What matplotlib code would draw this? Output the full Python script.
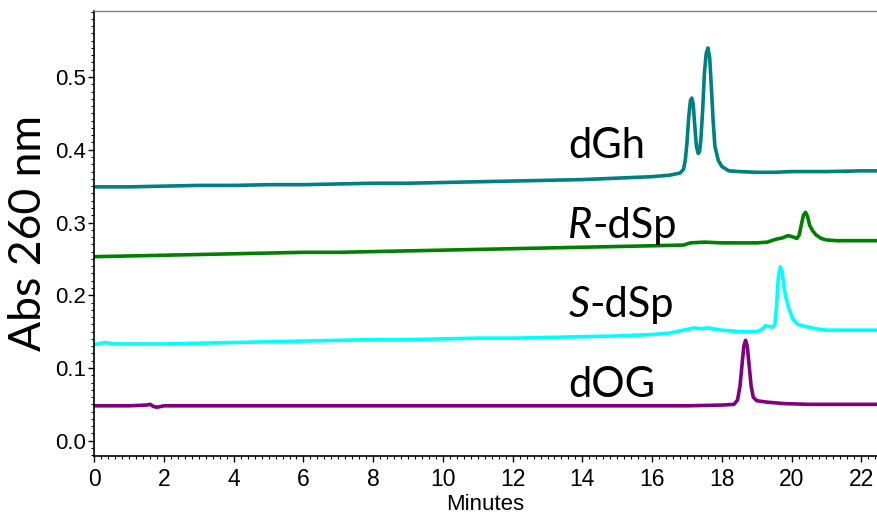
import matplotlib
matplotlib.use("Agg")
import matplotlib.pyplot as plt
from matplotlib.ticker import MultipleLocator, FormatStrFormatter

# ---- data ----
dgh_t = [0, 1, 2, 3, 4, 5, 6, 7, 8, 9, 10, 11, 12, 13, 14, 15, 16, 16.5, 16.8,
         16.9, 16.95, 17.0, 17.05, 17.1, 17.14, 17.18, 17.22, 17.27, 17.32, 17.36,
         17.4, 17.45, 17.5, 17.55, 17.6, 17.65, 17.7, 17.75, 17.8, 17.9, 18.0,
         18.2, 18.5, 19, 19.5, 20, 21, 22, 22.5]
dgh_a = [0.349, 0.349, 0.350, 0.351, 0.351, 0.352, 0.352, 0.353, 0.354, 0.354,
         0.355, 0.356, 0.357, 0.358, 0.359, 0.361, 0.363, 0.365, 0.368,
         0.373, 0.385, 0.410, 0.445, 0.468, 0.471, 0.462, 0.435, 0.405, 0.395, 0.397,
         0.415, 0.455, 0.505, 0.532, 0.540, 0.527, 0.485, 0.440, 0.405, 0.385, 0.377,
         0.371, 0.370, 0.369, 0.369, 0.370, 0.370, 0.371, 0.371]

rdsp_t = [0, 1, 2, 3, 4, 5, 6, 7, 8, 9, 10, 11, 12, 13, 14, 15, 16, 16.9, 17.1,
          17.5, 18, 18.5, 19, 19.3, 19.55, 19.75, 19.9, 20.05, 20.15, 20.22, 20.28,
          20.34, 20.4, 20.46, 20.52, 20.6, 20.7, 20.85, 21.0, 21.3, 22, 22.5]
rdsp_a = [0.253, 0.254, 0.255, 0.256, 0.257, 0.258, 0.259, 0.259, 0.260, 0.261,
          0.262, 0.263, 0.264, 0.265, 0.266, 0.267, 0.268, 0.269, 0.272,
          0.273, 0.272, 0.272, 0.272, 0.273, 0.277, 0.279, 0.282, 0.280, 0.278, 0.283, 0.297,
          0.310, 0.314, 0.308, 0.296, 0.289, 0.283, 0.278, 0.276, 0.275, 0.275, 0.275]

sdsp_t = [0, 0.3, 0.6, 1, 2, 3, 4, 5, 6, 7, 8, 9, 10, 11, 12, 13, 14, 15, 16, 16.5,
          16.9, 17.2, 17.4, 17.6, 18, 18.5, 19, 19.15, 19.25, 19.35, 19.45, 19.52,
          19.57, 19.62, 19.68, 19.73, 19.78, 19.84, 19.92, 20.03, 20.17, 20.4, 20.7,
          21, 22, 22.5]
sdsp_a = [0.132, 0.135, 0.133, 0.133, 0.133, 0.134, 0.135, 0.136, 0.137, 0.138,
          0.139, 0.139, 0.140, 0.141, 0.141, 0.142, 0.143, 0.144, 0.146, 0.148,
          0.152, 0.155, 0.154, 0.155, 0.152, 0.150, 0.150, 0.153, 0.158, 0.157, 0.156, 0.160,
          0.185, 0.225, 0.239, 0.232, 0.212, 0.196, 0.182, 0.168, 0.160, 0.157, 0.154,
          0.152, 0.152, 0.152]

dog_t = [0, 1, 1.5, 1.6, 1.7, 1.8, 1.9, 2, 5, 10, 15, 17, 18, 18.35, 18.45, 18.52,
         18.58, 18.63, 18.68, 18.73, 18.78, 18.84, 18.9, 19.0, 19.3, 19.8, 20.5, 22.5]
dog_a = [0.048, 0.048, 0.049, 0.050, 0.047, 0.046, 0.047, 0.048, 0.048, 0.048,
         0.048, 0.048, 0.049, 0.050, 0.056, 0.075, 0.105, 0.130, 0.138, 0.130,
         0.105, 0.075, 0.060, 0.055, 0.053, 0.051, 0.050, 0.050]

colors = ["#008080", "#008000", "#00FFFF", "#800080"]
# label: (italic prefix, rest, x, baseline y)
label_prefix = ["", "R", "S", ""]
label_rest = ["dGh", "-dSp", "-dSp", "dOG"]
label_x = [13.6, 13.6, 13.6, 13.6]
label_y = [0.389, 0.279, 0.1706, 0.0597]

fig = plt.figure(figsize=(8.77, 5.16), dpi=100)
ax = fig.add_axes([0.1075, 0.1163, 0.8925, 0.8627])

series = [(dgh_t, dgh_a), (rdsp_t, rdsp_a), (sdsp_t, sdsp_a), (dog_t, dog_a)]
for (t, a), c in zip(series, colors):
    ax.plot(t, a, color=c, lw=2.6, solid_joinstyle="round", solid_capstyle="round")

ax.set_xlim(0, 22.45)
ax.set_ylim(-0.021, 0.591)

ax.xaxis.set_major_locator(MultipleLocator(2))
ax.xaxis.set_minor_locator(MultipleLocator(0.2))
ax.yaxis.set_major_locator(MultipleLocator(0.1))
ax.yaxis.set_minor_locator(MultipleLocator(0.01))
ax.yaxis.set_major_formatter(FormatStrFormatter("%.1f"))

ax.tick_params(axis="x", which="major", labelsize=16.5, length=4, width=1, direction="out", pad=5)
ax.tick_params(axis="y", which="major", labelsize=16, length=4, width=1, direction="out", pad=2)
ax.tick_params(which="minor", length=2, width=0.8, direction="out")
for lab in ax.get_xticklabels() + ax.get_yticklabels():
    lab.set_fontfamily("Liberation Sans")

ax.spines["right"].set_visible(False)
ax.spines["top"].set_color("#808080")
ax.spines["top"].set_linewidth(1.0)
ax.spines["left"].set_linewidth(1.2)
ax.spines["bottom"].set_linewidth(1.2)

ax.set_xlabel("Minutes", fontfamily="Liberation Sans", fontsize=16, labelpad=2)
ax.set_ylabel("Abs 260 nm", fontfamily="Lato", fontsize=32, labelpad=4)

txt_kw = dict(fontfamily="Lato", fontsize=30, va="baseline", ha="left")
fig.canvas.draw()
r = fig.canvas.get_renderer()
for pre, rest, x, y in zip(label_prefix, label_rest, label_x, label_y):
    xs = x
    if pre:
        tp = ax.text(x, y, pre, style="italic", **txt_kw)
        bb = tp.get_window_extent(r)
        xs = ax.transData.inverted().transform((bb.x1, 0))[0]
    ax.text(xs, y, rest, **txt_kw)

fig.savefig("out.png", dpi=100)
